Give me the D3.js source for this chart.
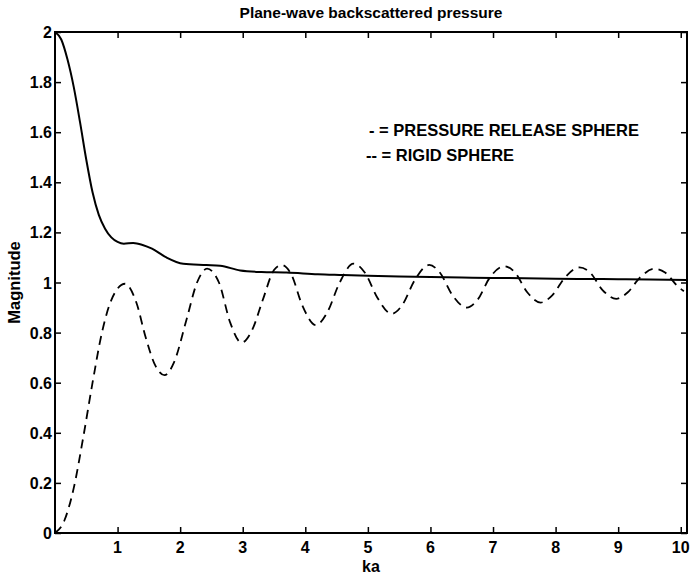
<!DOCTYPE html>
<html>
<head>
<meta charset="utf-8">
<script src="https://cdn.jsdelivr.net/npm/d3@7"></script>
<style>
  body { margin: 0; background: #fff; }
  text { font-family: "Liberation Sans", Arial, sans-serif; font-weight: bold; fill: #000; }
</style>
</head>
<body>
<script>
var width = 691, height = 575

// pressure release sphere (solid)
var releaseKa  = [0, 0.1, 0.2, 0.3, 0.4, 0.5, 0.6, 0.7, 0.8, 0.9, 1.0, 1.1, 1.25, 1.4, 1.55, 1.78, 2.05, 2.42, 2.64, 2.96, 3.3, 3.7, 4.2, 4.6, 5.0, 5.5, 6.0, 6.5, 7.0, 7.5, 8.0, 8.5, 9.0, 9.5, 10.1]
var releaseMag = [2, 1.97, 1.89, 1.78, 1.64, 1.49, 1.36, 1.27, 1.215, 1.18, 1.162, 1.155, 1.158, 1.15, 1.135, 1.10, 1.075, 1.07, 1.067, 1.048, 1.042, 1.04, 1.033, 1.03, 1.027, 1.024, 1.022, 1.02, 1.018, 1.017, 1.015, 1.014, 1.013, 1.012, 1.01]

// rigid sphere (dashed)
var rigidKa  = [0, 0.15, 0.3, 0.45, 0.6, 0.75, 0.9, 1.12, 1.3, 1.45, 1.6, 1.75, 1.9, 2.1, 2.27, 2.43, 2.62, 2.8, 2.98, 3.15, 3.32, 3.5, 3.62, 3.78, 3.95, 4.17, 4.35, 4.55, 4.77, 4.95, 5.15, 5.38, 5.55, 5.75, 5.98, 6.15, 6.35, 6.58, 6.75, 6.95, 7.18, 7.35, 7.55, 7.76, 7.95, 8.15, 8.38, 8.55, 8.75, 8.97, 9.15, 9.35, 9.58, 9.75, 9.95, 10.05]
var rigidMag = [0, 0.05, 0.18, 0.38, 0.6, 0.8, 0.93, 0.995, 0.92, 0.78, 0.67, 0.63, 0.68, 0.85, 1.0, 1.055, 1.0, 0.84, 0.76, 0.81, 0.93, 1.05, 1.07, 1.03, 0.91, 0.83, 0.88, 1.0, 1.075, 1.04, 0.94, 0.875, 0.91, 1.01, 1.07, 1.04, 0.95, 0.9, 0.93, 1.02, 1.065, 1.04, 0.96, 0.92, 0.95, 1.02, 1.06, 1.04, 0.97, 0.935, 0.96, 1.02, 1.055, 1.04, 0.985, 0.965]

var xTicks = [1, 2, 3, 4, 5, 6, 7, 8, 9, 10]
var yTicks = [0, 0.2, 0.4, 0.6, 0.8, 1, 1.2, 1.4, 1.6, 1.8, 2]
var legendLabels = ["- = PRESSURE RELEASE SPHERE", "-- = RIGID SPHERE"]

var pLeft = 55, pRight = 687, pTop = 32, pBottom = 533

var x = d3.scaleLinear().domain([0, 10.1]).range([pLeft, pRight])
var y = d3.scaleLinear().domain([0, 2]).range([pBottom, pTop])

var svg = d3.select("body")
    .append("svg")
    .attr("width", width)
    .attr("height", height);

function pairs(a, b) { return a.map(function(v, i){ return [v, b[i]]; }); }

var line = d3.line()
    .x(function(d){ return x(d[0]); })
    .y(function(d){ return y(d[1]); })
    .curve(d3.curveMonotoneX);

// axes: ticks inside, on all four sides
svg.append("g")
    .attr("transform", "translate(0," + pBottom + ")")
    .call(d3.axisTop(x).tickValues(xTicks).tickSize(6).tickFormat(""))
    .call(function(g){ g.select(".domain").remove(); });
svg.append("g")
    .attr("transform", "translate(0," + pTop + ")")
    .call(d3.axisBottom(x).tickValues(xTicks).tickSize(6).tickFormat(""))
    .call(function(g){ g.select(".domain").remove(); });
svg.append("g")
    .attr("transform", "translate(" + pLeft + ",0)")
    .call(d3.axisRight(y).tickValues(yTicks).tickSize(6).tickFormat(""))
    .call(function(g){ g.select(".domain").remove(); });
svg.append("g")
    .attr("transform", "translate(" + pRight + ",0)")
    .call(d3.axisLeft(y).tickValues(yTicks).tickSize(6).tickFormat(""))
    .call(function(g){ g.select(".domain").remove(); });
svg.selectAll(".tick line").attr("stroke", "#000").attr("stroke-width", 1.5);

// tick labels
svg.selectAll(".xlab")
    .data(xTicks)
  .enter().append("text")
    .attr("x", function(d){ return x(d); })
    .attr("y", pBottom + 20)
    .attr("text-anchor", "middle")
    .attr("font-size", 16)
    .text(function(d){ return d; });
svg.selectAll(".ylab")
    .data(yTicks)
  .enter().append("text")
    .attr("x", pLeft - 3)
    .attr("y", function(d){ return y(d) + 6; })
    .attr("text-anchor", "end")
    .attr("font-size", 16)
    .text(function(d){ return d; });

// frame
svg.append("rect")
    .attr("x", pLeft).attr("y", pTop)
    .attr("width", pRight - pLeft).attr("height", pBottom - pTop)
    .attr("fill", "none")
    .attr("stroke", "#000")
    .attr("stroke-width", 2);

svg.append("path")
    .datum(pairs(releaseKa, releaseMag))
    .attr("d", line)
    .attr("fill", "none")
    .attr("stroke", "#000")
    .attr("stroke-width", 2);

svg.append("path")
    .datum(pairs(rigidKa, rigidMag))
    .attr("d", line)
    .attr("fill", "none")
    .attr("stroke", "#000")
    .attr("stroke-width", 1.8)
    .attr("stroke-dasharray", "9,6");

svg.append("text")
    .attr("x", (pLeft + pRight) / 2)
    .attr("y", 18)
    .attr("text-anchor", "middle")
    .attr("font-size", 15.5)
    .text("Plane-wave backscattered pressure");

svg.append("text")
    .attr("x", (pLeft + pRight) / 2)
    .attr("y", 572)
    .attr("text-anchor", "middle")
    .attr("font-size", 16)
    .text("ka");

svg.append("text")
    .attr("transform", "translate(20," + y(1) + ") rotate(-90)")
    .attr("text-anchor", "middle")
    .attr("font-size", 16.5)
    .text("Magnitude");

svg.selectAll(".leg")
    .data(legendLabels)
  .enter().append("text")
    .attr("x", function(d, i){ return i == 0 ? 369 : 366; })
    .attr("y", function(d, i){ return 136 + i * 25; })
    .attr("font-size", 16.5)
    .text(function(d){ return d; });
</script>
</body>
</html>
